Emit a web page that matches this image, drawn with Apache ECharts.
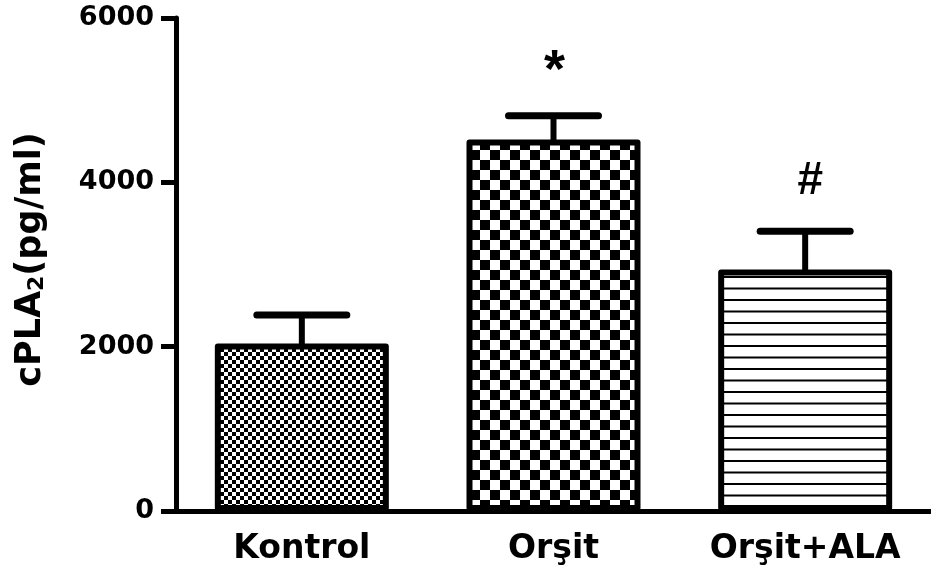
<!DOCTYPE html>
<html>
<head>
<meta charset="utf-8">
<script src="https://cdn.jsdelivr.net/npm/echarts@6/dist/echarts.min.js"></script>
<style>
html,body{margin:0;padding:0;background:#fff;}
#chart{width:931px;height:577px;}
</style>
</head>
<body>
<div id="chart"></div>
<script>
const categories = ['Kontrol', 'Orşit', 'Orşit+ALA'];
const means = [2040, 4520, 2940];
const errors = [345, 290, 465];
const marks = ['', '*', '#'];
const yTicks = [0, 2000, 4000, 6000];

function makePattern(kind) {
  const c = document.createElement('canvas');
  const ctx = c.getContext('2d');
  if (kind === 'fine') {
    c.width = 8; c.height = 8;
    ctx.fillStyle = '#fff'; ctx.fillRect(0, 0, 8, 8);
    ctx.fillStyle = '#000';
    ctx.fillRect(0, 0, 4, 4); ctx.fillRect(4, 4, 4, 4);
  } else if (kind === 'coarse') {
    c.width = 20; c.height = 20;
    ctx.fillStyle = '#fff'; ctx.fillRect(0, 0, 20, 20);
    ctx.fillStyle = '#000';
    ctx.fillRect(0, 0, 10, 10); ctx.fillRect(10, 10, 10, 10);
  } else {
    c.width = 8; c.height = 23;
    ctx.fillStyle = '#fff'; ctx.fillRect(0, 0, 8, 23);
    ctx.fillStyle = '#000';
    ctx.fillRect(0, 0, 8, 2); ctx.fillRect(0, 11.5, 8, 2);
  }
  return { image: c, repeat: 'repeat' };
}
const patterns = [makePattern('fine'), makePattern('coarse'), makePattern('lines')];

const chart = echarts.init(document.getElementById('chart'), null, { renderer: 'canvas' });
const option = {
  animation: false,
  backgroundColor: '#fff',
  grid: { left: 176, right: -3, top: 18, bottom: 66, containLabel: false },
  xAxis: {
    type: 'category',
    data: categories,
    axisLine: { lineStyle: { color: '#000', width: 5 } },
    axisTick: { alignWithLabel: true, length: 13, lineStyle: { color: '#000', width: 4 } },
    axisLabel: { color: '#000', fontFamily: 'DejaVu Sans', fontWeight: 'bold', fontSize: 33, margin: 22 }
  },
  yAxis: {
    type: 'value',
    min: 0, max: 6000, interval: 2000,
    splitLine: { show: false },
    axisLine: { show: true, lineStyle: { color: '#000', width: 5 } },
    axisTick: { show: true, length: 15, lineStyle: { color: '#000', width: 5 } },
    axisLabel: { color: '#000', fontFamily: 'DejaVu Sans', fontWeight: 'bold', fontSize: 27, margin: 22,
      formatter: v => yTicks.includes(v) ? String(v) : '' },
    name: '{a|cPLA}{s|2}{a|(pg/ml)}',
    nameLocation: 'middle',
    nameRotate: 90,
    nameGap: 128,
    nameTextStyle: {
      padding: [0, 0, 0, 10],
      rich: {
        a: { fontFamily: 'DejaVu Sans', fontWeight: 'bold', fontSize: 35, color: '#000' },
        s: { fontFamily: 'DejaVu Sans', fontWeight: 'bold', fontSize: 22, color: '#000', verticalAlign: 'bottom', padding: [13, 0, 0, 0] }
      }
    }
  },
  series: [
    {
      type: 'bar',
      barWidth: 174,
      data: means.map((v, i) => ({
        value: v,
        itemStyle: { color: patterns[i], borderColor: '#000', borderWidth: 6, borderJoin: 'round' }
      })),
      z: 2
    },
    {
      type: 'custom',
      z: 3,
      data: means.map((v, i) => [i, v, v + errors[i]]),
      renderItem: function (params, api) {
        const base = api.coord([api.value(0), api.value(1)]);
        const top = api.coord([api.value(0), api.value(2)]);
        const x = base[0];
        const half = 45;
        const mark = marks[params.dataIndex];
        const children = [
          { type: 'line', shape: { x1: x, y1: base[1] + 2, x2: x, y2: top[1] }, style: { stroke: '#000', lineWidth: 6 } },
          { type: 'line', shape: { x1: x - half, y1: top[1], x2: x + half, y2: top[1] }, style: { stroke: '#000', lineWidth: 7, lineCap: 'round' } }
        ];
        if (mark) {
          const isStar = mark === '*';
          children.push({
            type: 'text',
            style: {
              text: mark, x: x + (isStar ? 1 : 5), y: top[1] - (isStar ? 44 : 50),
              align: 'center', verticalAlign: 'middle',
              fontFamily: 'Liberation Sans', fontWeight: 'bold', fontSize: isStar ? 54 : 46, fill: '#000'
            }
          });
        }
        return { type: 'group', children: children };
      }
    }
  ]
};
chart.setOption(option);
</script>
</body>
</html>
